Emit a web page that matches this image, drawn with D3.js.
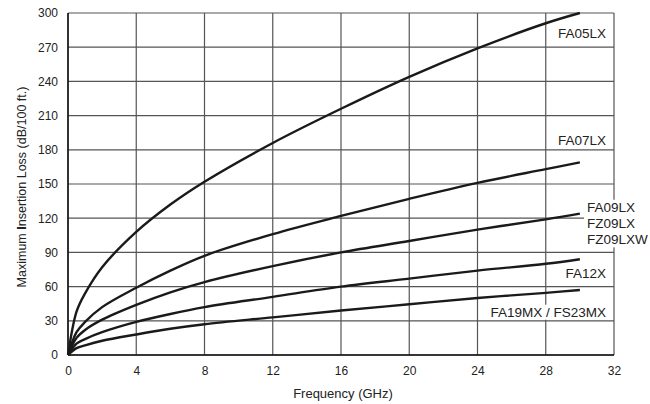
<!DOCTYPE html>
<html><head><meta charset="utf-8">
<script src="https://cdn.jsdelivr.net/npm/d3@7"></script>
<style>body{margin:0;background:#fff;}svg{display:block;font-family:"Liberation Sans",Arial,sans-serif;}</style>
</head><body><svg id="c" width="650" height="404"></svg>
<script>
const freqs = [0, 0.5, 1, 2, 4, 6, 8, 12, 16, 20, 24, 28, 30];
const fa05lx = [0, 38, 54, 77, 108, 132, 152, 186, 216, 244, 269, 291, 300];
const fa07lx = [0, 20, 29, 42, 59, 74, 87, 106, 122, 137, 151, 163, 169];
const fa09lx = [0, 15, 22, 31, 44, 55, 64, 78, 90, 100, 110, 119, 124];
const fa12x  = [0, 10, 14, 20, 29, 36, 42, 51, 60, 67, 74, 80, 84];
const fa19mx = [0, 6, 8.5, 12.5, 18, 23, 27, 33, 39, 44.5, 50, 54.5, 57];
const seriesNames = ["FA05LX", "FA07LX", "FA09LX", "FA12X", "FA19MX / FS23MX"];
const xTicks = [0, 4, 8, 12, 16, 20, 24, 28, 32];
const yTicks = [0, 30, 60, 90, 120, 150, 180, 210, 240, 270, 300];

const svg = d3.select("#c");
const x = d3.scaleLinear().domain([0, 32]).range([68, 614]);
const y = d3.scaleLinear().domain([0, 300]).range([355, 13]);

svg.append("g").selectAll("line").data(yTicks).join("line")
  .attr("x1", x(0)).attr("x2", x(32)).attr("y1", d => y(d)).attr("y2", d => y(d))
  .attr("stroke", "#555").attr("stroke-width", 1.2);
svg.append("g").selectAll("line").data(xTicks).join("line")
  .attr("y1", y(0)).attr("y2", y(300)).attr("x1", d => x(d)).attr("x2", d => x(d))
  .attr("stroke", "#555").attr("stroke-width", 1.2);
svg.append("line").attr("x1", x(0)).attr("x2", x(0)).attr("y1", y(0)).attr("y2", y(300)).attr("stroke", "#111").attr("stroke-width", 1.5);
svg.append("line").attr("x1", x(0)).attr("x2", x(32)).attr("y1", y(0)).attr("y2", y(0)).attr("stroke", "#111").attr("stroke-width", 1.5);

const yAxis = svg.append("g").attr("transform", `translate(${x(0)},0)`)
  .call(d3.axisLeft(y).tickValues(yTicks).tickSize(0).tickPadding(10));
const xAxis = svg.append("g").attr("transform", `translate(0,${y(0)})`)
  .call(d3.axisBottom(x).tickValues(xTicks).tickSize(0).tickPadding(11));
[yAxis, xAxis].forEach(a => {
  a.select(".domain").remove();
  a.selectAll("text").attr("font-size", 12).attr("fill", "#222")
    .attr("font-family", '"Liberation Sans", Arial, sans-serif');
});

const allSeries = [fa05lx, fa07lx, fa09lx, fa12x, fa19mx];
const line = d3.line().x((d, i) => x(freqs[i])).y(d => y(d)).curve(d3.curveCatmullRom.alpha(0.5));
svg.append("g").selectAll("path").data(allSeries).join("path")
  .attr("d", d => line(d)).attr("fill", "none").attr("stroke", "#1a1a1a").attr("stroke-width", 2.4)
  .attr("stroke-linejoin", "round");

function label(lines, xPos, yPos, anchor) {
  const g = svg.append("g");
  const t = g.append("text").attr("font-size", 13.5).attr("fill", "#222").attr("text-anchor", anchor);
  lines.forEach((s, i) => t.append("tspan").attr("x", xPos).attr("y", yPos + i * 16.3).attr("dy", "0.35em").text(s));
  const bb = t.node().getBBox();
  g.insert("rect", "text").attr("x", bb.x - 3).attr("y", bb.y).attr("width", bb.width + 6).attr("height", bb.height).attr("fill", "#fff");
}
label([seriesNames[0]], 606, 33, "end");
label([seriesNames[1]], 606, 140, "end");
label(["FA09LX", "FZ09LX", "FZ09LXW"], 587, 207, "start");
label([seriesNames[3]], 606, 273, "end");
label([seriesNames[4]], 606, 312, "end");

svg.append("text").attr("x", 343).attr("y", 393).attr("dy", "0.35em").attr("text-anchor", "middle")
  .attr("font-size", 13).attr("fill", "#222").text("Frequency (GHz)");
const yt = svg.append("text").attr("transform", "translate(22,187) rotate(-90)").attr("dy", "0.35em").attr("text-anchor", "middle")
  .attr("font-size", 12.5).attr("fill", "#222");
yt.append("tspan").text("Maximum ");
yt.append("tspan").attr("font-weight", "bold").text("I");
yt.append("tspan").text("nsertion Loss (dB/100 ft.)");
</script></body></html>
